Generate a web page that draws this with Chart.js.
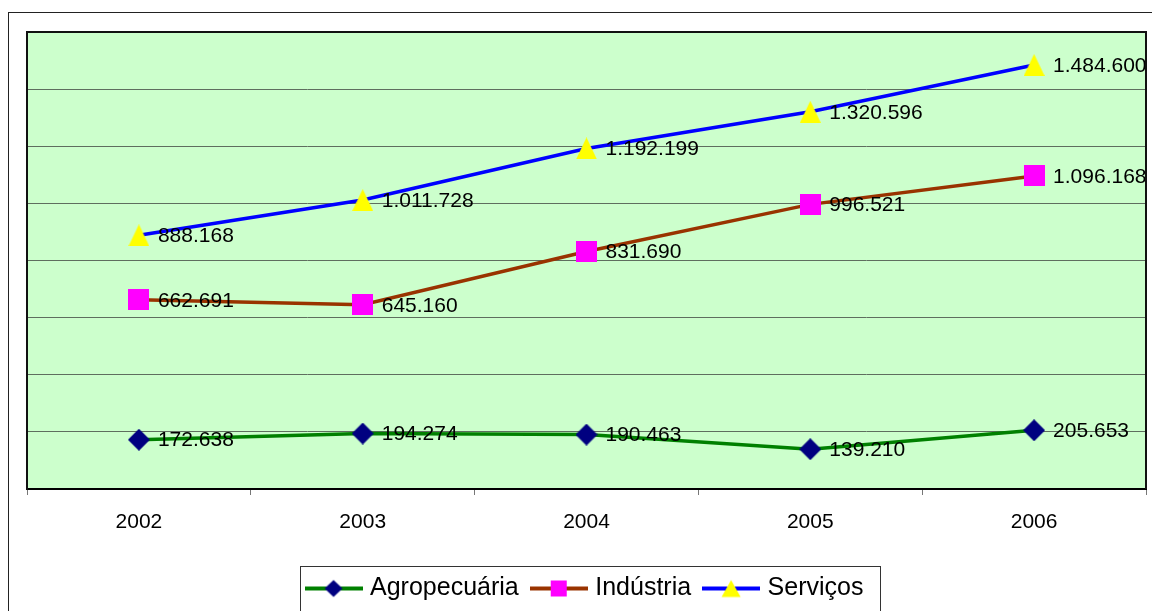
<!DOCTYPE html>
<html>
<head>
<meta charset="utf-8">
<script src="https://cdn.jsdelivr.net/npm/chart.js@4.4.1/dist/chart.umd.min.js"></script>
<style>
  html, body { margin: 0; padding: 0; background: #fff; }
  canvas { display: block; }
</style>
</head>
<body>
<canvas id="chart" width="1152" height="611"></canvas>
<script>
// Dados
const anos = ['2002', '2003', '2004', '2005', '2006'];
const agropecuaria = [172638, 194274, 190463, 139210, 205653];
const industria = [662691, 645160, 831690, 996521, 1096168];
const servicos = [888168, 1011728, 1192199, 1320596, 1484600];
const eixoY = { min: 0, max: 1600000, passo: 200000 };

const FONTE = "'Liberation Sans', Arial, sans-serif";

// formata 1234567 -> 1.234.567
function formatar(v) {
  return String(v).replace(/\B(?=(\d{3})+(?!\d))/g, '.');
}

// marcadores desenhados num canvas
function desenharForma(ctx, forma, cx, cy, w, h, cor) {
  ctx.fillStyle = cor;
  ctx.beginPath();
  if (forma === 'diamante') {
    ctx.moveTo(cx, cy - h / 2);
    ctx.lineTo(cx + w / 2, cy);
    ctx.lineTo(cx, cy + h / 2);
    ctx.lineTo(cx - w / 2, cy);
  } else if (forma === 'quadrado') {
    ctx.rect(cx - w / 2, cy - h / 2, w, h);
  } else {
    ctx.moveTo(cx, cy - h / 2);
    ctx.lineTo(cx + w / 2, cy + h / 2);
    ctx.lineTo(cx - w / 2, cy + h / 2);
  }
  ctx.closePath();
  ctx.fill();
}

function marcador(forma, w, h, cor) {
  const c = document.createElement('canvas');
  c.width = w; c.height = h;
  desenharForma(c.getContext('2d'), forma, w / 2, h / 2, w, h, cor);
  return c;
}

function simboloLegenda(forma, w, h, corLinha, corMarca) {
  const c = document.createElement('canvas');
  c.width = 58; c.height = 20;
  const ctx = c.getContext('2d');
  ctx.strokeStyle = corLinha;
  ctx.lineWidth = 4;
  ctx.beginPath();
  ctx.moveTo(0, 10);
  ctx.lineTo(58, 10);
  ctx.stroke();
  desenharForma(ctx, forma, 29, 10, w, h, corMarca);
  return c;
}

const series = [
  { nome: 'Agropecuária', dados: agropecuaria, linha: '#008000', marca: '#000080',
    ponto: marcador('diamante', 22, 22, '#000080'), leg: simboloLegenda('diamante', 18, 17, '#008000', '#000080') },
  { nome: 'Indústria', dados: industria, linha: '#993300', marca: '#ff00ff',
    ponto: marcador('quadrado', 21, 21, '#ff00ff'), leg: simboloLegenda('quadrado', 16, 16, '#993300', '#ff00ff') },
  { nome: 'Serviços', dados: servicos, linha: '#0000ff', marca: '#ffff00',
    ponto: marcador('triangulo', 21, 22, '#ffff00'), leg: simboloLegenda('triangulo', 19, 17, '#0000ff', '#ffff00') }
];

// fundo verde, moldura e rótulos
const moldura = {
  id: 'moldura',
  beforeDraw(chart) {
    const { ctx, chartArea: a } = chart;
    ctx.save();
    ctx.fillStyle = '#ccffcc';
    ctx.fillRect(a.left, a.top, a.right - a.left, a.bottom - a.top);
    ctx.strokeStyle = '#222';
    ctx.lineWidth = 1;
    ctx.strokeRect(8.5, 12.5, 1300, 800);
    ctx.restore();
  },
  afterDatasetsDraw(chart) {
    const { ctx, chartArea: a } = chart;
    ctx.save();
    ctx.beginPath();
    ctx.rect(a.left, a.top, a.right - a.left, a.bottom - a.top);
    ctx.clip();
    ctx.fillStyle = '#000';
    ctx.font = '21px ' + FONTE;
    ctx.textAlign = 'left';
    ctx.textBaseline = 'middle';
    chart.data.datasets.forEach((ds, i) => {
      chart.getDatasetMeta(i).data.forEach((pt, j) => {
        ctx.fillText(formatar(ds.data[j]), pt.x + 19, pt.y + 1);
      });
    });
    ctx.restore();
  },
  afterDraw(chart) {
    const { ctx, chartArea: a, legend } = chart;
    ctx.save();
    ctx.strokeStyle = '#111';
    ctx.lineWidth = 2;
    ctx.beginPath();
    ctx.moveTo(a.left, a.top);
    ctx.lineTo(a.right, a.top);
    ctx.lineTo(a.right, a.bottom);
    ctx.stroke();
    // caixa da legenda
    const hb = legend.legendHitBoxes;
    if (hb && hb.length) {
      const esq = hb[0].left - 10;
      const ult = hb[hb.length - 1];
      const dir = ult.left + ult.width + 16;
      ctx.strokeStyle = '#333';
      ctx.lineWidth = 1;
      ctx.strokeRect(Math.round(esq) + 0.5, 566.5, Math.round(dir - esq), 100);
    }
    ctx.restore();
  }
};

new Chart(document.getElementById('chart'), {
  type: 'line',
  data: {
    labels: anos,
    datasets: series.map(s => ({
      label: s.nome,
      data: s.dados,
      borderColor: s.linha,
      backgroundColor: s.marca,
      borderWidth: 3.5,
      tension: 0,
      fill: false,
      pointStyle: s.ponto,
      pointRadius: 11,
      clip: false
    }))
  },
  options: {
    responsive: false,
    animation: false,
    devicePixelRatio: 1,
    layout: { autoPadding: false, padding: { left: 27, top: 32, right: 6, bottom: 0 } },
    plugins: {
      tooltip: { enabled: false },
      legend: {
        position: 'bottom',
        labels: {
          usePointStyle: true,
          pointStyleWidth: 48,
          padding: 16,
          color: '#000',
          font: { family: FONTE, size: 25 },
          generateLabels: (chart) => series.map((s, i) => ({
            text: s.nome,
            pointStyle: s.leg,
            fillStyle: s.marca,
            strokeStyle: s.linha,
            lineWidth: 0,
            hidden: false,
            datasetIndex: i
          }))
        }
      }
    },
    scales: {
      x: {
        offset: true,
        grid: { offset: true, drawOnChartArea: false, drawTicks: true, tickLength: 6, color: '#777' },
        border: { display: true, color: '#000', width: 2 },
        ticks: { color: '#000', font: { family: FONTE, size: 21 }, padding: 15, maxRotation: 0, autoSkip: false },
        afterFit: (scale) => {
          scale.height = 71;
          scale.paddingLeft = 0;
          scale.paddingRight = 0;
        }
      },
      y: {
        min: eixoY.min,
        max: eixoY.max,
        ticks: { display: false, stepSize: eixoY.passo },
        grid: { color: '#5e6e5e', lineWidth: 1, drawTicks: false },
        border: { display: true, color: '#111', width: 2 },
        afterFit: (scale) => { scale.width = 0; }
      }
    }
  },
  plugins: [moldura]
});
</script>
</body>
</html>
